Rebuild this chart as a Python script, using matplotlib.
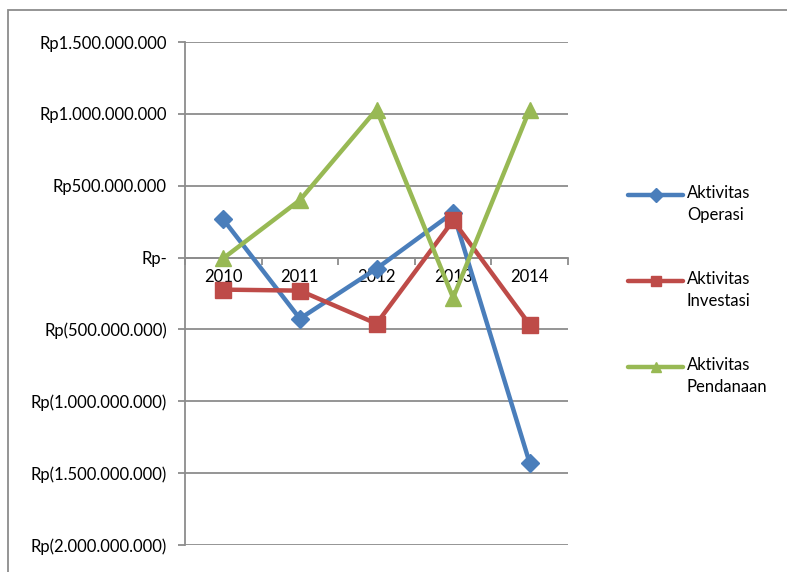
import matplotlib.pyplot as plt
from matplotlib.ticker import FuncFormatter, FixedLocator
from matplotlib.patches import Rectangle
from matplotlib.lines import Line2D

years = ["2010", "2011", "2012", "2013", "2014"]
operasi = [265e6, -425e6, -77e6, 313e6, -1430e6]
investasi = [-223e6, -230e6, -460e6, 258e6, -467e6]
pendanaan = [-5e6, 400e6, 1030e6, -280e6, 1030e6]

labels = ["Aktivitas\nOperasi", "Aktivitas\nInvestasi", "Aktivitas\nPendanaan"]
colors = ["#4A7EBB", "#BE4B48", "#98B954"]
markers = ['D', 's', '^']

plt.rcParams['font.family'] = ['Lato', 'DejaVu Sans']


def rp_fmt(v, pos):
    if abs(v) < 1:
        return "Rp-"
    s = f"{abs(int(round(v))):,}".replace(",", ".")
    return f"Rp({s})" if v < 0 else f"Rp{s}"


W, H = 787, 572
fig = plt.figure(figsize=(W / 100, H / 100), dpi=100)
ax = fig.add_axes([185 / W, 1 - 545 / H, (568 - 185) / W, (545 - 42) / H])

# outer chart frame
fig.patches.append(Rectangle((8 / W, -0.1), 1.2, 1 - 10 / H + 0.1,
                             transform=fig.transFigure, fill=False,
                             edgecolor="#8c8c8c", linewidth=1.3))

x = list(range(len(years)))
series = [operasi, investasi, pendanaan]
sizes = [9, 11, 12]
for vals, c, m, ms, lab in zip(series, colors, markers, sizes, labels):
    ax.plot(x, vals, color=c, lw=3.2, marker=m, ms=ms, label=lab, zorder=3)

ax.set_xlim(-0.5, 4.5)
ax.set_ylim(-2e9, 1.5e9)
ax.yaxis.set_major_locator(FixedLocator([-2e9, -1.5e9, -1e9, -5e8, 0, 5e8, 1e9, 1.5e9]))
ax.yaxis.set_major_formatter(FuncFormatter(rp_fmt))
ax.grid(axis='y', color="#8c8c8c", lw=1.3)
ax.set_axisbelow(True)

for s in ['top', 'right']:
    ax.spines[s].set_visible(False)
ax.spines['left'].set_color("#8c8c8c")
ax.spines['left'].set_linewidth(1.3)

# category axis crossing at zero
ax.spines['bottom'].set_position(('data', 0))
ax.spines['bottom'].set_color("#8c8c8c")
ax.spines['bottom'].set_linewidth(1.3)
ax.set_xticks(x)
ax.set_xticklabels(years)
ax.set_xticks([-0.5, 0.5, 1.5, 2.5, 3.5, 4.5], minor=True)
ax.tick_params(axis='x', which='major', length=0, pad=8, labelsize=12)
ax.tick_params(axis='x', which='minor', length=5, color="#8c8c8c", width=1.3)
ax.tick_params(axis='y', length=5, color="#8c8c8c", width=1.3, labelsize=12, pad=8)

# legend: handle aligned with the first text line, like the source chart
for i, (c, m, lab) in enumerate(zip(colors, markers, labels)):
    yl = 1 - (195 + i * 86) / H
    fig.add_artist(Line2D([628 / W, 683 / W], [yl, yl], transform=fig.transFigure,
                          color=c, lw=3.2, solid_capstyle='round'))
    fig.add_artist(Line2D([656 / W], [yl], transform=fig.transFigure,
                          color=c, marker=m, ms=7))
    fig.text(687 / W, yl + 10 / H, lab, fontsize=12, va='top', ha='left',
             linespacing=1.45)

plt.savefig("out.png", dpi=100)
